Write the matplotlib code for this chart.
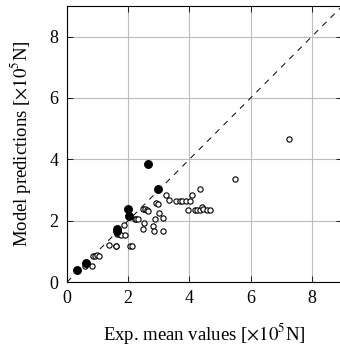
import matplotlib
matplotlib.use('Agg')
import matplotlib.pyplot as plt

plt.rcParams['font.family'] = ['Liberation Serif', 'DejaVu Serif']
plt.rcParams['mathtext.fontset'] = 'stix'

# filled markers
exp_filled = [0.34, 0.61, 1.62, 1.62, 2.00, 2.04, 2.65, 2.97]
mod_filled = [0.38, 0.63, 1.72, 1.65, 2.38, 2.15, 3.85, 3.02]

# open markers
exp_open = [0.59, 0.83, 0.86, 0.91, 0.97, 1.04, 1.37, 1.59, 1.61, 1.62,
            1.71, 1.78, 1.89, 1.86, 2.05, 2.14, 2.21, 2.27, 2.33, 2.47,
            2.53, 2.49, 2.55, 2.62, 2.65, 2.82, 2.85, 2.89, 2.92, 2.99,
            3.01, 3.14, 3.14, 3.23, 3.35, 3.57, 3.68, 3.75, 3.88, 4.01,
            4.09, 3.97, 4.18, 4.25, 4.34, 4.41, 4.34, 4.45, 4.58, 4.67,
            5.49, 7.27]
mod_open = [0.52, 0.53, 0.84, 0.86, 0.89, 0.84, 1.21, 1.18, 1.18, 1.58,
            1.57, 1.55, 1.52, 1.85, 1.18, 1.18, 2.07, 2.07, 2.07, 1.73,
            1.93, 2.38, 2.39, 2.34, 2.31, 1.83, 1.67, 2.05, 2.57, 2.54,
            2.26, 2.10, 1.67, 2.84, 2.66, 2.64, 2.64, 2.64, 2.64, 2.64,
            2.84, 2.36, 2.36, 2.36, 2.36, 2.44, 3.04, 2.37, 2.36, 2.36,
            3.36, 4.67]

ticks = [0, 2, 4, 6, 8]

fig = plt.figure(figsize=(3.4, 3.47), dpi=100)
ax = fig.add_axes([0.197, 0.187, 0.81, 0.796])

ax.grid(True, color='#bdbdbd', linewidth=0.8)
ax.set_axisbelow(True)
ax.plot([0, 9], [0, 9], color='black', linestyle=(0, (6, 6)), linewidth=0.7)
ax.plot(exp_open, mod_open, 'o', markersize=3.8, markerfacecolor='white',
        markeredgecolor='black', markeredgewidth=0.8)
ax.plot(exp_filled, mod_filled, 'o', markersize=5.4, color='black')

ax.set_xlim(0, 9)
ax.set_ylim(0, 9)
ax.set_xticks(ticks)
ax.set_yticks(ticks)
ax.tick_params(direction='in', top=True, right=True, labelsize=13,
               length=4, width=0.6, pad=6)
for s in ax.spines.values():
    s.set_linewidth(0.8)

ax.set_xlabel(r'Exp. mean values [$\times10^5$N]', fontsize=13.5, labelpad=10)
ax.set_ylabel(r'Model predictions [$\times10^5$N]', fontsize=13.5, labelpad=12)

fig.savefig('out.png', dpi=100)
